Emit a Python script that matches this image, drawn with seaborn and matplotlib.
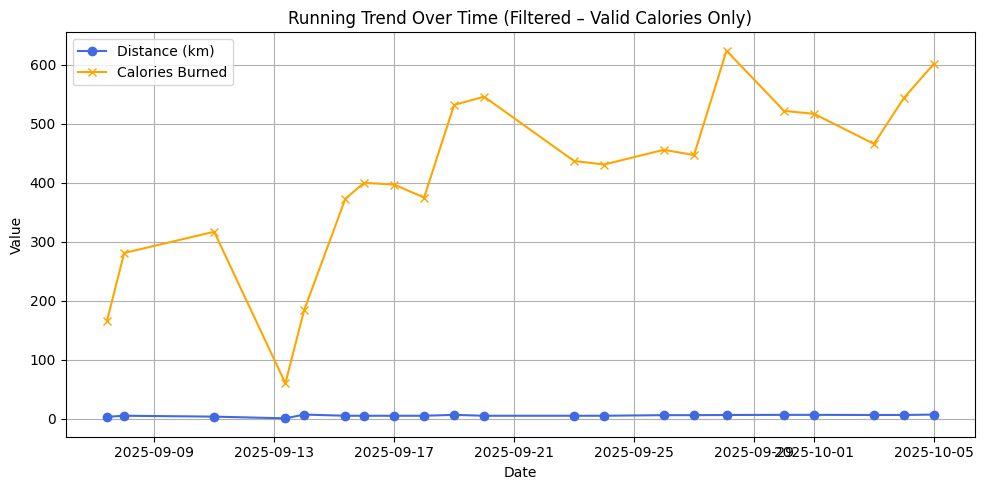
import matplotlib
matplotlib.use('Agg')
import matplotlib.pyplot as plt
import pandas as pd
import seaborn as sns

# run log
dates = ['2025-09-07 10:15', '2025-09-08 00:00', '2025-09-11 00:00', '2025-09-13 09:00',
         '2025-09-14 00:00', '2025-09-15 09:00', '2025-09-16 00:00', '2025-09-17 00:00',
         '2025-09-18 00:00', '2025-09-19 00:00', '2025-09-20 00:00', '2025-09-23 00:00',
         '2025-09-24 00:00', '2025-09-26 00:00', '2025-09-27 00:00', '2025-09-28 02:00',
         '2025-09-30 00:00', '2025-10-01 00:00', '2025-10-03 00:00', '2025-10-04 00:00',
         '2025-10-05 00:00']
distance_km = [3.2, 5.0, 3.5, 0.6, 7.0, 5.0, 5.0, 5.0, 5.0, 6.5, 5.0,
               5.0, 5.0, 6.0, 6.0, 6.3, 6.5, 6.5, 6.3, 6.3, 7.0]
calories = [166, 281, 317, 60, 184, 373, 400, 397, 375, 532, 546,
            437, 431, 456, 447, 624, 522, 517, 466, 544, 602]

df = pd.DataFrame({'Date': pd.to_datetime(dates, format='%Y-%m-%d %H:%M'),
                   'Distance (km)': distance_km,
                   'Calories Burned': calories})

plt.figure(figsize=(10, 5), dpi=100)
sns.lineplot(data=df, x='Date', y='Distance (km)', marker='o', color='royalblue',
             mec='royalblue', mew=1, label='Distance (km)')
sns.lineplot(data=df, x='Date', y='Calories Burned', marker='x', color='orange',
             mec='orange', mew=1, label='Calories Burned')
plt.title('Running Trend Over Time (Filtered – Valid Calories Only)')
plt.xlabel('Date')
plt.ylabel('Value')
plt.grid(True)
plt.legend(loc='upper left')
plt.tight_layout()
plt.savefig('out.png', dpi=100, bbox_inches='tight')
